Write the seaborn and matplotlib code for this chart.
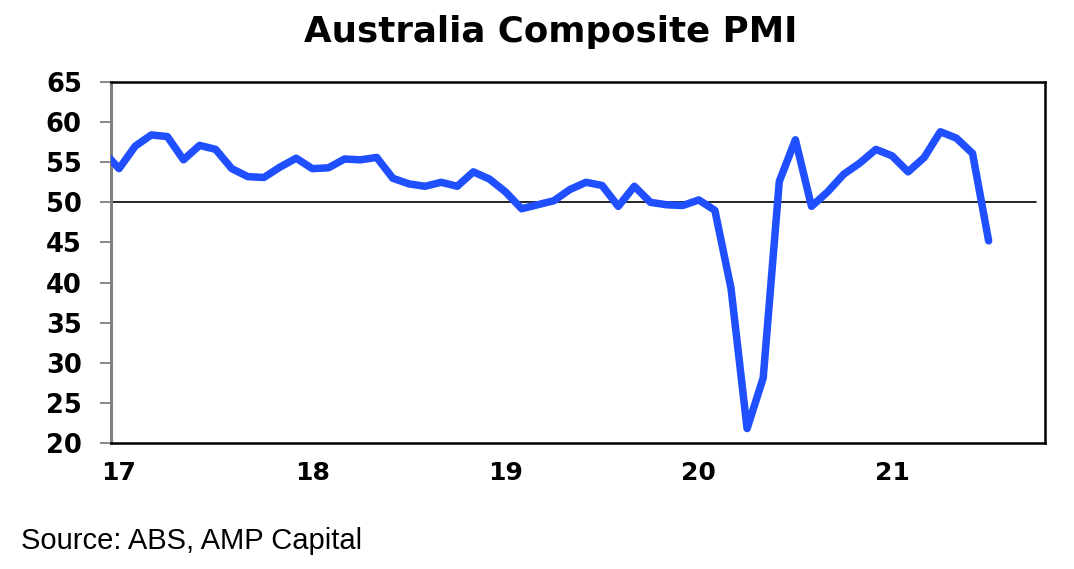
import numpy as np
import pandas as pd
import matplotlib
matplotlib.use("Agg")
import matplotlib.pyplot as plt
import seaborn as sns

# monthly composite PMI, Dec 2016 - Jul 2021
months = pd.date_range("2016-12-01", "2021-07-01", freq="MS")
pmi = [56.4,
       54.2, 57.0, 58.4, 58.2, 55.3, 57.1, 56.6, 54.2, 53.2, 53.1, 54.4, 55.5,
       54.2, 54.3, 55.4, 55.3, 55.6, 53.0, 52.3, 52.0, 52.5, 52.0, 53.8, 52.9,
       51.3, 49.2, 49.7, 50.2, 51.6, 52.5, 52.1, 49.5, 52.0, 50.0, 49.7, 49.6,
       50.3, 49.0, 39.3, 21.8, 28.1, 52.6, 57.8, 49.5, 51.3, 53.5, 54.9, 56.6,
       55.8, 53.8, 55.6, 58.8, 58.0, 56.1, 45.2]
year_labels = ["17", "18", "19", "20", "21"]
y_ticks = [20, 25, 30, 35, 40, 45, 50, 55, 60, 65]

df = pd.DataFrame({"month": months, "pmi": pmi})
# months since Jan 2017
df["idx"] = (df["month"].dt.year - 2017) * 12 + df["month"].dt.month - 1

sns.set_style("white")
plt.rcParams["font.family"] = ["Liberation Sans", "DejaVu Sans"]
plt.rcParams["text.color"] = "black"
plt.rcParams["xtick.color"] = "black"
plt.rcParams["ytick.color"] = "black"

fig = plt.figure(figsize=(10.74, 5.69), dpi=100)
ax = fig.add_axes([111 / 1074, 1 - 443 / 569, 934 / 1074, 361 / 569])

ax.axhline(50, xmin=0, xmax=0.99, color="black", lw=1.2, zorder=1)
sns.lineplot(data=df, x="idx", y="pmi", ax=ax, color="#1f4fff", lw=5.4,
             solid_capstyle="round", solid_joinstyle="round", zorder=3)

ax.set_xlim(-0.5, 57.5)
ax.set_ylim(20, 65)
ax.set_yticks(y_ticks)
ax.set_xticks([12 * i for i in range(len(year_labels))])
ax.set_xticklabels(year_labels)
ax.set_xlabel("")
ax.set_ylabel("")

ax.tick_params(axis="y", left=True, direction="out", length=8, width=1.3,
               color="#808080", labelcolor="black", pad=13)
ax.tick_params(axis="x", bottom=False, length=0, pad=13)
for lab in ax.get_yticklabels():
    lab.set_fontproperties({"family": "DejaVu Sans", "weight": "bold", "size": 18.5})
for lab in ax.get_xticklabels():
    lab.set_fontproperties({"family": "DejaVu Sans", "weight": "bold", "size": 18})

for side in ["top", "right", "bottom"]:
    ax.spines[side].set_color("black")
    ax.spines[side].set_linewidth(1.8)
ax.spines["left"].set_color("#808080")
ax.spines["left"].set_linewidth(2.2)

fig.text(551 / 1074, 1 - 32 / 569, "Australia Composite PMI", ha="center",
         va="center", fontsize=25.7, fontweight="bold", family="DejaVu Sans")
fig.text(21 / 1074, 1 - 541 / 569, "Source: ABS, AMP Capital", ha="left",
         va="center", fontsize=21)

fig.savefig("out.png", dpi=100)
